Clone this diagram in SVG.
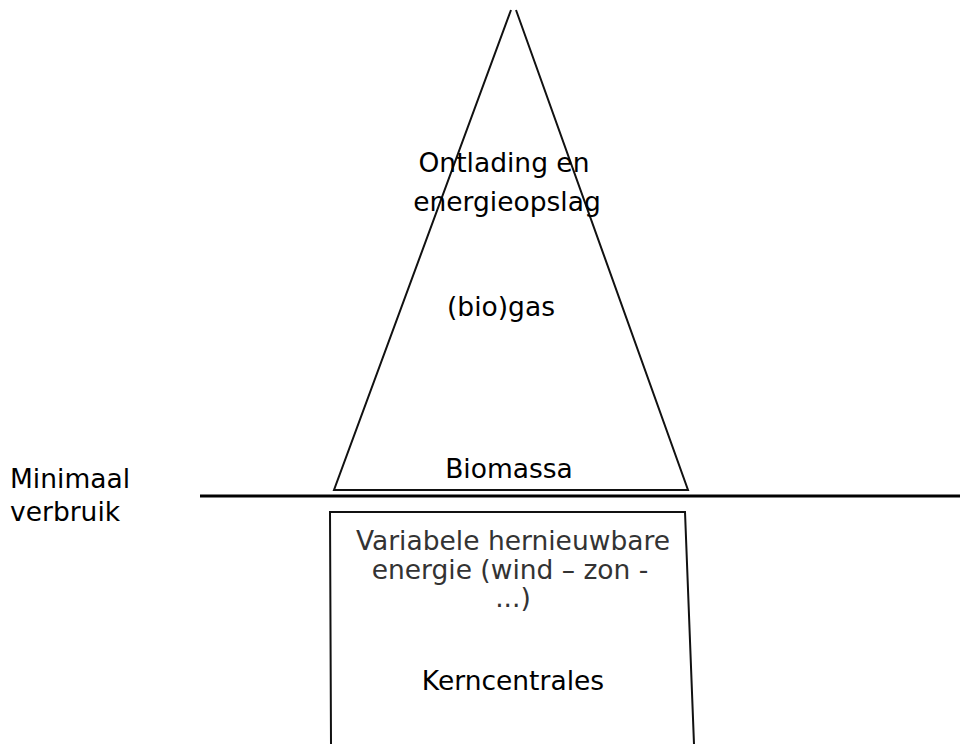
<svg xmlns="http://www.w3.org/2000/svg" width="960" height="744" viewBox="0 0 960 744">
<style>
.t{font-family:"DejaVu Sans","Liberation Sans",sans-serif;font-size:26.5px;fill:#000}
.c{text-anchor:middle}
.s{fill:none;stroke:#111;stroke-width:2}
.lt{font-family:"DejaVu Sans","Liberation Sans",sans-serif;font-size:26.5px;fill:#333;text-anchor:middle}
</style>
<rect width="960" height="744" fill="#fff"/>
<g id="pyramid">
<path class="s" d="M511,10 L334,490 L688,490 L516,10"/>
</g>
<g id="base-box">
<path class="s" d="M331,744 L330,512 L685,512 L694,744"/>
</g>
<g id="connectors">
<line x1="200" y1="496" x2="960" y2="496" stroke="#000" stroke-width="3"/>
</g>
<g id="label-ontlading">
<text class="t c" x="504" y="172">Ontlading en</text>
<text class="t c" x="507" y="211">energieopslag</text>
</g>
<g id="label-biogas"><text class="t c" x="501" y="316">(bio)gas</text></g>
<g id="label-biomassa"><text class="t c" x="509" y="478">Biomassa</text></g>
<g id="label-minimaal">
<text class="t" x="10" y="488">Minimaal</text>
<text class="t" x="10" y="521">verbruik</text>
</g>
<g id="label-variabel">
<text class="lt" x="513" y="550">Variabele hernieuwbare</text>
<text class="lt" x="510" y="579">energie (wind – zon -</text>
<text class="lt" x="513" y="607">...)</text>
</g>
<g id="label-kern"><text class="t c" x="513" y="690">Kerncentrales</text></g>
</svg>
